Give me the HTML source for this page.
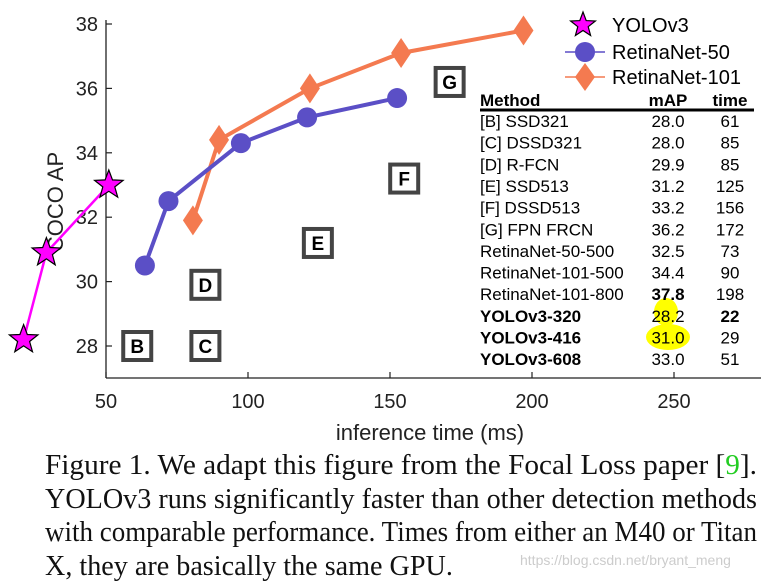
<!DOCTYPE html>
<html><head><meta charset="utf-8"><style>
body{margin:0;background:#fff;width:761px;height:587px;overflow:hidden}
svg{display:block}
.cap{position:absolute;left:45px;top:449px;width:713px;font-family:"Liberation Serif",serif;font-size:28px;line-height:33.5px;color:#111}
.ln{display:block;white-space:nowrap;height:33.5px}
.ln span{display:inline-block;transform-origin:0 50%}
.wm{position:absolute;left:520px;top:552px;font-family:"Liberation Sans",sans-serif;font-size:14px;color:#ccc}
</style></head><body>
<svg id="chart" width="761" height="445" xmlns="http://www.w3.org/2000/svg" font-family="Liberation Sans, sans-serif"></svg>
<div class="cap">
<div class="ln"><span>Figure 1. We adapt this figure from the Focal Loss paper [<span style="color:#2c2">9</span>].</span></div>
<div class="ln"><span>YOLOv3 runs significantly faster than other detection methods</span></div>
<div class="ln"><span>with comparable performance. Times from either an M40 or Titan</span></div>
<div class="ln"><span>X, they are basically the same GPU.</span></div>
</div>
<div class="wm">https://blog.csdn.net/bryant_meng</div>
<script>
const xTicks=[50,100,150,200,250];
const yTicks=[28,30,32,34,36,38];
const yoloT=[21,29,51];
const yoloAP=[28.2,30.9,33.0];
const r50T=[63.7,72,97.5,120.8,152.5];
const r50AP=[30.5,32.5,34.3,35.1,35.7];
const r101T=[80.6,89.8,121.8,153.9,197];
const r101AP=[31.9,34.4,36.0,37.1,37.8];
const boxLabels=["B","C","D","E","F","G"];
const boxT=[61,85,85,124.6,155,171];
const boxAP=[28.0,28.0,29.9,31.2,33.2,36.2];
const tblMethods=["[B] SSD321","[C] DSSD321","[D] R-FCN","[E] SSD513","[F] DSSD513","[G] FPN FRCN","RetinaNet-50-500","RetinaNet-101-500","RetinaNet-101-800","YOLOv3-320","YOLOv3-416","YOLOv3-608"];
const tblMAP=["28.0","28.0","29.9","31.2","33.2","36.2","32.5","34.4","37.8","28.2","31.0","33.0"];
const tblTime=["61","85","85","125","156","172","73","90","198","22","29","51"];

const X=v=>106+(v-50)*2.84;
const Y=v=>346-(v-28)*32.2;
const svg=document.getElementById('chart');
const NS='http://www.w3.org/2000/svg';
function mk(tag,attrs,parent){const e=document.createElementNS(NS,tag);for(const k in attrs)e.setAttribute(k,attrs[k]);(parent||svg).appendChild(e);return e;}

let ax=mk('line',{x1:106,y1:20,x2:106,y2:378,stroke:'#222','stroke-width':1.3});


ax=mk('line',{x1:106,y1:378,x2:761,y2:378,stroke:'#222','stroke-width':1.3});


xTicks.forEach(v=>{
  const l=mk('line',{x1:X(v),y1:378,x2:X(v),y2:372,stroke:'#222','stroke-width':1.2});
  
  
  const t=mk('text',{x:X(v),y:408,'text-anchor':'middle','font-size':20,fill:'#222'});t.textContent=v;
  
  
});
yTicks.forEach(v=>{
  const l=mk('line',{x1:106,y1:Y(v),x2:112,y2:Y(v),stroke:'#222','stroke-width':1.2});
  
  
  const t=mk('text',{x:98,y:Y(v)+7,'text-anchor':'end','font-size':20,fill:'#222'});t.textContent=v;
  
  
});
let t=mk('text',{x:430,y:440,'text-anchor':'middle','font-size':22,fill:'#222'});t.textContent='inference time (ms)';


t=mk('text',{x:0,y:0,'text-anchor':'middle','font-size':22,fill:'#222',transform:'translate(63,202) rotate(-90)'});t.textContent='COCO AP';



boxLabels.forEach((b,i)=>{
  const g=mk('g',{});
  
  
  mk('rect',{x:X(boxT[i])-14,y:Y(boxAP[i])-14,width:28,height:28,fill:'#fff',stroke:'#444','stroke-width':4},g);
  const tx=mk('text',{x:X(boxT[i]),y:Y(boxAP[i])+7,'text-anchor':'middle','font-size':19,'font-weight':'bold',fill:'#000'},g);tx.textContent=b;
});

function starPts(cx,cy,R){const r=R*0.42;let p=[];for(let i=0;i<10;i++){const a=-Math.PI/2+i*Math.PI/5;const rr=i%2?r:R;p.push((cx+rr*Math.cos(a)).toFixed(1)+','+(cy+rr*Math.sin(a)).toFixed(1));}return p.join(' ');}
function series(ts,aps,color,w,name,marker){
  const g=mk('g',{});
  
  
  mk('polyline',{points:ts.map((v,i)=>X(v)+','+Y(aps[i])).join(' '),fill:'none',stroke:color,'stroke-width':w},g);
  ts.forEach((v,i)=>{const m=marker(X(v),Y(aps[i]),g);});
}
series(r101T,r101AP,'#f47a50',4,'retinanet-101-series',(x,y,g)=>mk('polygon',{points:`${x},${y-15} ${x+10},${y} ${x},${y+15} ${x-10},${y}`,fill:'#f47a50'},g));
series(r50T,r50AP,'#5b4fc6',4,'retinanet-50-series',(x,y,g)=>mk('circle',{cx:x,cy:y,r:10,fill:'#5b4fc6'},g));
series(yoloT,yoloAP,'#ff00ff',2.5,'yolov3-series',(x,y,g)=>mk('polygon',{points:starPts(x,y,15),fill:'#ff00ff',stroke:'#000','stroke-width':1.2},g));

const lg=mk('g',{});


mk('polygon',{points:starPts(583,25,13),fill:'#ff00ff',stroke:'#000','stroke-width':1.2},lg);
mk('line',{x1:565,y1:52,x2:605,y2:52,stroke:'#5b4fc6','stroke-width':1.5},lg);
mk('circle',{cx:585,cy:52,r:10,fill:'#5b4fc6'},lg);
mk('line',{x1:565,y1:77,x2:605,y2:77,stroke:'#f47a50','stroke-width':1.5},lg);
mk('polygon',{points:'585,63 595,77 585,91 575,77',fill:'#f47a50'},lg);
[['YOLOv3',25],['RetinaNet-50',52],['RetinaNet-101',77]].forEach(([s,y])=>{const e=mk('text',{x:612,y:y+7,'font-size':20,fill:'#000'},lg);e.textContent=s;});

const tg=mk('g',{});


mk('ellipse',{cx:666,cy:312,rx:12,ry:14,fill:'#ffff00'},tg);
mk('ellipse',{cx:668,cy:337,rx:22,ry:13,fill:'#ffff00'},tg);
[['Method',480,'start'],['mAP',668,'middle'],['time',730,'middle']].forEach(([s,x,a])=>{const e=mk('text',{x:x,y:106,'text-anchor':a,'font-size':17,'font-weight':'bold',fill:'#000'},tg);e.textContent=s;});
mk('line',{x1:480,y1:110,x2:754,y2:110,stroke:'#000','stroke-width':3},tg);
tblMethods.forEach((m,i)=>{
  const y=127+i*21.65;
  const bold=i>=9;
  const r=mk('g',{},tg);
  
  
  let e=mk('text',{x:480,y:y,'font-size':17,'font-weight':bold?'bold':'normal',fill:'#000'},r);e.textContent=m;
  e=mk('text',{x:668,y:y,'text-anchor':'middle','font-size':17,'font-weight':i==8?'bold':'normal',fill:'#000'},r);e.textContent=tblMAP[i];
  e=mk('text',{x:730,y:y,'text-anchor':'middle','font-size':17,'font-weight':i==9?'bold':'normal',fill:'#000'},r);e.textContent=tblTime[i];
});

const lines=[...document.querySelectorAll('.ln > span')];
let sum=0;
lines.forEach((s,i)=>{if(i<3){const k=712/s.getBoundingClientRect().width;sum+=k;s.style.transform='scaleX('+k+')';}});
lines[3].style.transform='scaleX('+(sum/3)+')';
</script>
</body></html>
